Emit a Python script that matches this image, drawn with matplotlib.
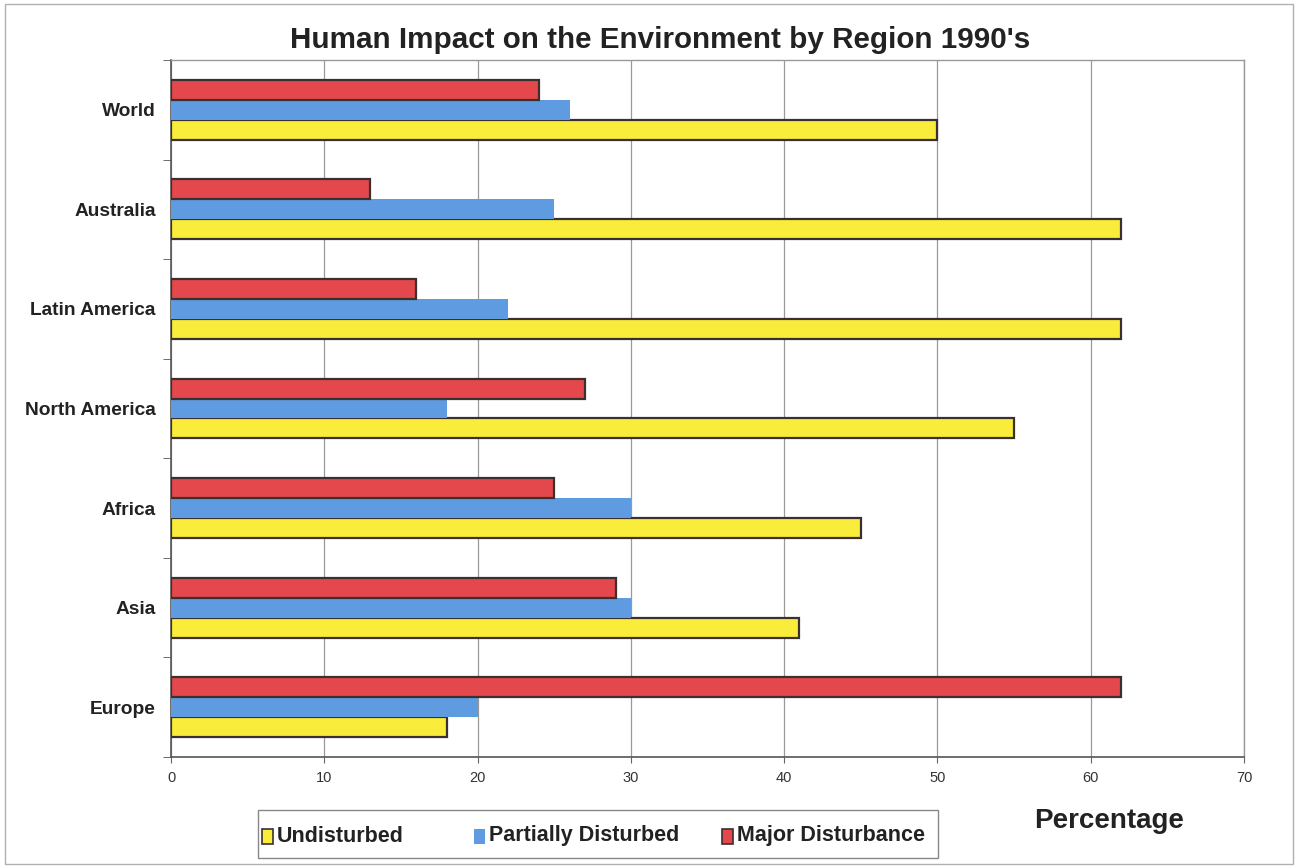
import numpy as np
import matplotlib
matplotlib.use("Agg")
import matplotlib.pyplot as plt
from matplotlib.patches import Rectangle
from matplotlib import font_manager

regions = ["Europe", "Asia", "Africa", "North America", "Latin America", "Australia", "World"]
undisturbed = [18, 41, 45, 55, 62, 62, 50]
partially = [20, 30, 30, 18, 22, 25, 26]
major = [62, 29, 25, 27, 16, 13, 24]
xticks = [0, 10, 20, 30, 40, 50, 60, 70]

# condensed font if present, like the Arial Narrow of the original
names = {f.name for f in font_manager.fontManager.ttflist}
narrow = "Liberation Sans Narrow" if "Liberation Sans Narrow" in names else "Liberation Sans"
plt.rcParams['font.family'] = [narrow, 'DejaVu Sans']

col_y = '#FAEC3A'
col_b = '#5E9BE0'
col_r = '#E4484C'
edge = '#3a3030'

fig = plt.figure(figsize=(13, 8.68), dpi=100, facecolor='white')
ax = fig.add_axes([171/1300, 1 - 757/868, (1244-171)/1300, (757-60)/868])

y = np.arange(len(regions))
h = 0.2
ax.barh(y - h, undisturbed, height=h, color=col_y, edgecolor=edge, linewidth=1.6, zorder=3)
ax.barh(y, partially, height=h, color=col_b, edgecolor='none', zorder=3)
ax.barh(y + h, major, height=h, color=col_r, edgecolor=edge, linewidth=1.6, zorder=3)

ax.set_xlim(0, 70)
ax.set_ylim(-0.5, len(regions) - 0.5)
ax.set_xticks(xticks)
ax.set_xticklabels([str(v) for v in xticks], fontsize=10.5, color='#333333')
ax.set_yticks(y)
ax.set_yticklabels(regions, fontsize=13.8, fontweight='bold', color='#222222')
ax.set_yticks(np.arange(-0.5, len(regions)), minor=True)
ax.tick_params(axis='y', which='major', length=0, pad=11)
ax.tick_params(axis='y', which='minor', length=6, color='#555555', direction='out')
ax.tick_params(axis='x', length=4, color='#666666', pad=6)
ax.grid(axis='x', color='#999999', linewidth=0.9, zorder=0)

for s in ['top', 'right']:
    ax.spines[s].set_color('#999999')
    ax.spines[s].set_linewidth(1.0)
for s in ['left', 'bottom']:
    ax.spines[s].set_color('#555555')
    ax.spines[s].set_linewidth(1.2)

fig.text(660/1300, 1 - 40/868, "Human Impact on the Environment by Region 1990's",
         ha='center', va='center', fontsize=21.3, fontweight='bold', color='#222222')

fig.text(1109/1300, 1 - 821/868, "Percentage", ha='center', va='center',
         fontsize=20, fontweight='bold', color='#222222')

# legend box
fig.patches.append(Rectangle((258/1300, 1 - 858/868), (938-258)/1300, (858-810)/868,
                             transform=fig.transFigure, facecolor='white',
                             edgecolor='#888888', linewidth=1.0))
items = [("Undisturbed", col_y, edge, 262), ("Partially Disturbed", col_b, 'none', 474),
         ("Major Disturbance", col_r, edge, 722)]
for label, fc, ec, px in items:
    fig.patches.append(Rectangle((px/1300, 1 - 844/868), 11/1300, 15/868,
                                 transform=fig.transFigure, facecolor=fc,
                                 edgecolor=ec, linewidth=1.2))
    fig.text((px + 15)/1300, 1 - 836/868, label, ha='left', va='center',
             fontsize=15.5, fontweight='bold', color='#222222')

# outer frame
fig.patches.append(Rectangle((5/1300, 4/868), 1288/1300, 860/868,
                             transform=fig.transFigure, facecolor='none',
                             edgecolor='#b0b0b0', linewidth=1.0))

fig.savefig("out.png", dpi=100, facecolor='white')
